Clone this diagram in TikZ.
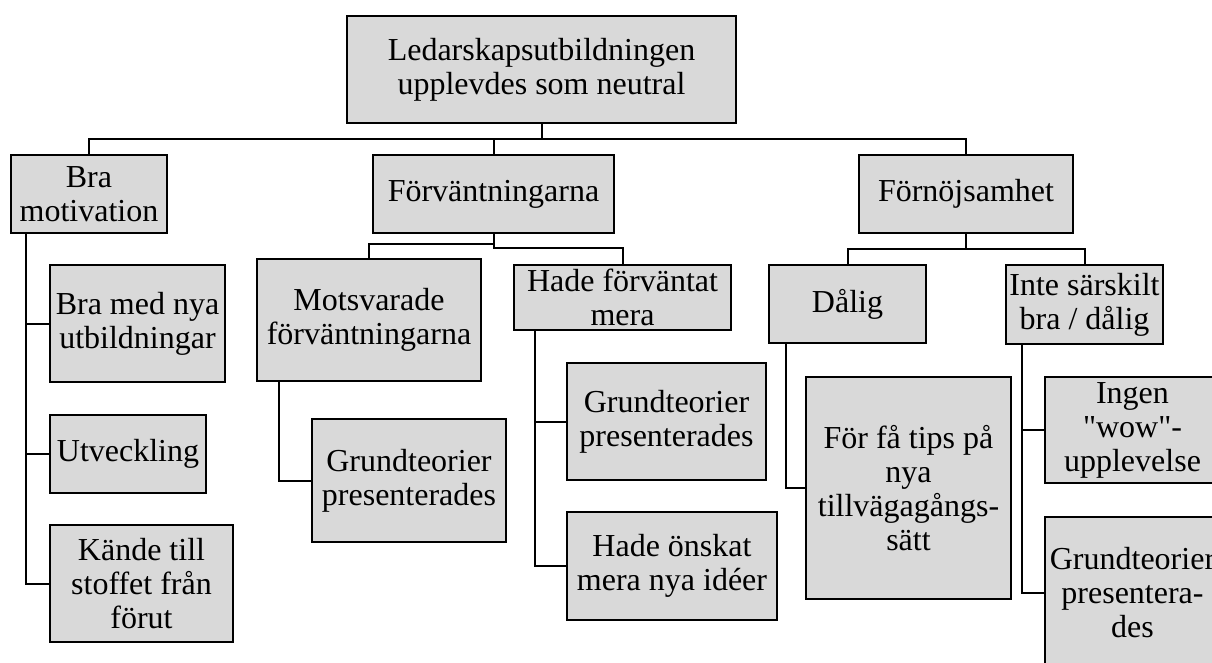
\documentclass[tikz,border=0pt]{standalone}
\usepackage{fontspec}
\setmainfont{Liberation Serif}[Ligatures=TeXOff]
\definecolor{boxgray}{RGB}{217,217,217}
\tikzset{
  box/.style={draw=black, line width=1.5pt, fill=boxgray, inner sep=0pt, align=center,
    font=\fontsize{24}{25.5}\selectfont},
  conn/.style={draw=black, line width=1.5pt}
}
\begin{document}
\begin{tikzpicture}[x=0.75pt,y=-0.75pt]
\useasboundingbox (0,0) rectangle (1212,662);
\clip (0,0) rectangle (1212,662);
% level 0
\node[box, minimum width=389*0.75pt, minimum height=107*0.75pt] (root) at (541.5,69.5) {Ledarskapsutbildningen\\upplevdes som neutral};
% level 1
\node[box, minimum width=156*0.75pt, minimum height=78*0.75pt] (bra) at (89,194) {Bra\\motivation};
\node[box, minimum width=241*0.75pt, minimum height=78*0.75pt] (forv) at (493.5,194) {Förväntningarna};
\node[box, minimum width=214*0.75pt, minimum height=78*0.75pt] (forn) at (966,194) {Förnöjsamhet};
% Bra motivation children
\node[box, minimum width=175*0.75pt, minimum height=117*0.75pt] (b1) at (137.5,323.5) {Bra med nya\\utbildningar};
\node[box, minimum width=156*0.75pt, minimum height=78*0.75pt] (b2) at (128,454) {Utveckling};
\node[box, minimum width=183*0.75pt, minimum height=117*0.75pt] (b3) at (141.5,583.5) {Kände till\\stoffet från\\förut};
% Förväntningarna children
\node[box, minimum width=224*0.75pt, minimum height=122*0.75pt] (m) at (369,320) {Motsvarade\\förväntningarna};
\node[box, minimum width=217*0.75pt, minimum height=65*0.75pt] (h) at (622.5,297.5) {Hade förväntat\\mera};
\node[box, minimum width=194*0.75pt, minimum height=123*0.75pt] (mg) at (409,480.5) {Grundteorier\\presenterades};
\node[box, minimum width=199*0.75pt, minimum height=117*0.75pt] (hg) at (666.5,421.5) {Grundteorier\\presenterades};
\node[box, minimum width=210*0.75pt, minimum height=108*0.75pt] (ho) at (672,566) {Hade önskat\\mera nya idéer};
% Förnöjsamhet children
\node[box, minimum width=157*0.75pt, minimum height=78*0.75pt] (d) at (847.5,304) {Dålig};
\node[box, minimum width=157*0.75pt, minimum height=79*0.75pt] (i) at (1084.5,304.5) {Inte särskilt\\bra / dålig};
\node[box, minimum width=205*0.75pt, minimum height=222*0.75pt] (df) at (908.5,488) {För få tips på\\nya\\tillvägagångs-\\sätt};
\node[box, minimum width=175*0.75pt, minimum height=106*0.75pt] (iw) at (1132.5,430) {Ingen\\"wow"-\\upplevelse};
\node[box, minimum width=175*0.75pt, minimum height=152*0.75pt] (ig) at (1132.5,593) {Grundteorier\\presentera-\\des};
% connectors
\draw[conn] (root.south) -- (root.south |- 0,139) -| (bra.north);
\draw[conn] (root.south) -- (root.south |- 0,139) -| (forv.north);
\draw[conn] (root.south) -- (root.south |- 0,139) -| (forn.north);
\draw[conn] (bra.south -| 26,0) |- (b1.west);
\draw[conn] (bra.south -| 26,0) |- (b2.west);
\draw[conn] (bra.south -| 26,0) |- (b3.west);
\draw[conn] (forv.south) -- (forv.south |- 0,244) -| (m.north);
\draw[conn] (forv.south) -- (forv.south |- 0,248) -| (h.north);
\draw[conn] (m.south -| 279,0) |- (mg.west);
\draw[conn] (h.south -| 535,0) |- (hg.west);
\draw[conn] (h.south -| 535,0) |- (ho.west);
\draw[conn] (forn.south) -- (forn.south |- 0,249) -| (d.north);
\draw[conn] (forn.south) -- (forn.south |- 0,249) -| (i.north);
\draw[conn] (d.south -| 786,0) |- (df.west);
\draw[conn] (i.south -| 1022,0) |- (iw.west);
\draw[conn] (i.south -| 1022,0) |- (ig.west);
\end{tikzpicture}
\end{document}
